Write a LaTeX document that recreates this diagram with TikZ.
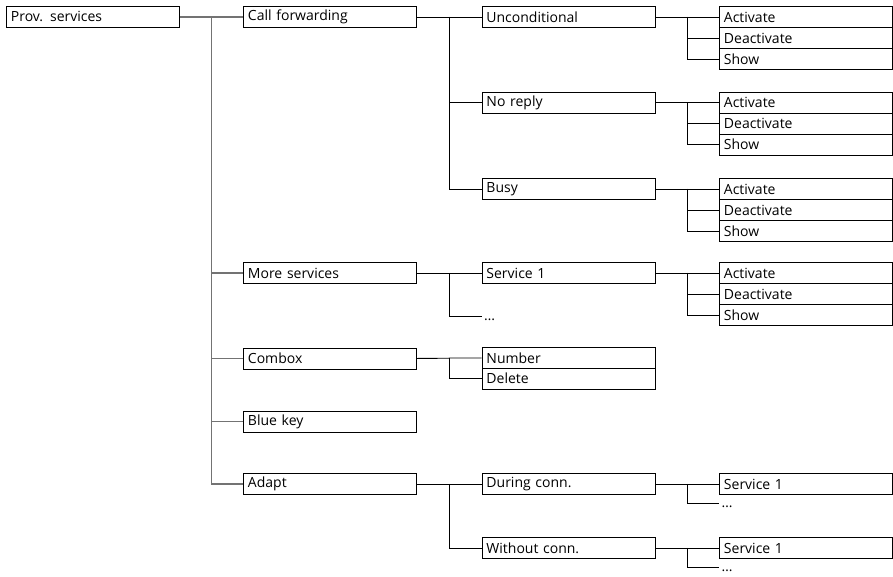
\documentclass[tikz,border=0pt]{standalone}
\usepackage{fontspec}
\setmainfont{Open Sans}
\usetikzlibrary{calc}
\begin{document}
\begin{tikzpicture}[x=1pt,y=-1pt,
  box/.style={draw=black, line width=0.9pt, rectangle, anchor=north west,
    minimum height=21pt, text width=164pt, inner xsep=4.5pt, inner ysep=0pt,
    align=left, font=\fontsize{14}{15}\selectfont},
  dotsnode/.style={anchor=base west, inner sep=0pt, font=\fontsize{14}{15}\selectfont},
  trunk/.style={draw=black!55, line width=1.5pt},
  link/.style={draw=black, line width=0.9pt}]
\useasboundingbox (0,0) rectangle (893,576);

% level 0
\node[box] (prov) at (6,6) {Prov. services};
% level 1
\node[box] (cf) at (243,6) {Call forwarding};
\node[box] (ms) at (243,262) {More services};
\node[box] (cb) at (243,347.5) {Combox};
\node[box] (bk) at (243,410.5) {Blue key};
\node[box] (ad) at (243,473) {Adapt};
% level 2
\node[box] (un) at (481.5,6) {Unconditional};
\node[box] (nr) at (481.5,91.5) {No reply};
\node[box] (bu) at (481.5,178) {Busy};
\node[box] (sv) at (481.5,262) {Service 1};
\coordinate (e1) at (481.5,316);
\node[dotsnode] (dt1) at ([xshift=2.5pt,yshift=-4.5pt]e1) {…};
\node[box] (nu) at (481.5,347) {Number};
\node[box] (de) at (481.5,367.5) {Delete};
\node[box] (dc) at (481.5,473) {During conn.};
\node[box] (wc) at (481.5,537) {Without conn.};
% level 3
\node[box] (a1) at (719,6) {Activate};
\node[box] (d1) at (719,27) {Deactivate};
\node[box] (h1) at (719,48) {Show};
\node[box] (a2) at (719,91.5) {Activate};
\node[box] (d2) at (719,112.5) {Deactivate};
\node[box] (h2) at (719,133.5) {Show};
\node[box] (a3) at (719,178) {Activate};
\node[box] (d3) at (719,199) {Deactivate};
\node[box] (h3) at (719,220) {Show};
\node[box] (a4) at (719,262) {Activate};
\node[box] (d4) at (719,283) {Deactivate};
\node[box] (h4) at (719,304) {Show};
\node[box] (sa) at (719,473) {Service 1};
\coordinate (e2) at (719,503);
\node[dotsnode] (dt2) at ([xshift=2.5pt,yshift=-4.5pt]e2) {…};
\node[box] (sb) at (719,537) {Service 1};
\coordinate (e3) at (719,567);
\node[dotsnode] (dt3) at ([xshift=2.5pt,yshift=-4.5pt]e3) {…};

% connectors level 0 -> 1
\coordinate (t0) at ($(prov.east)!0.5!(cf.west)$);
\draw[trunk] (prov.east) -- (cf.west);
\draw[trunk] (t0) |- (ms.west);
\draw[trunk] (t0) |- (cb.west);
\draw[trunk] (t0) |- (bk.west);
\draw[trunk] (t0) |- (ad.west);

% call forwarding
\coordinate (t1) at ($(cf.east)!0.5!(un.west)$);
\draw[link] (cf.east) -- (un.west);
\draw[link] (t1) |- (nr.west);
\draw[link] (t1) |- (bu.west);
% more services
\coordinate (t2) at ($(ms.east)!0.5!(sv.west)$);
\draw[link] (ms.east) -- (sv.west);
\draw[link] (t2) |- (e1);
% combox
\coordinate (t3) at ($(cb.east)!0.5!(nu.west)$);
\draw[link] (cb.east) -- (t3) |- (nu.west);
\draw[link] (t3) |- (de.west);
% adapt
\coordinate (t4) at ($(ad.east)!0.5!(dc.west)$);
\draw[link] (ad.east) -- (dc.west);
\draw[link] (t4) |- (wc.west);

% level 2 -> 3
\foreach \p/\a/\d/\h in {un/a1/d1/h1, nr/a2/d2/h2, bu/a3/d3/h3, sv/a4/d4/h4}{
  \coordinate (m\p) at ($(\p.east)!0.5!(\a.west)$);
  \draw[link] (\p.east) -- (\a.west);
  \draw[link] (m\p) |- (\d.west);
  \draw[link] (m\p) |- (\h.west);
}
\coordinate (mdc) at ($(dc.east)!0.5!(sa.west)$);
\draw[link] (dc.east) -- (sa.west);
\draw[link] (mdc) |- (e2);
\coordinate (mwc) at ($(wc.east)!0.5!(sb.west)$);
\draw[link] (wc.east) -- (sb.west);
\draw[link] (mwc) |- (e3);
\end{tikzpicture}
\end{document}
